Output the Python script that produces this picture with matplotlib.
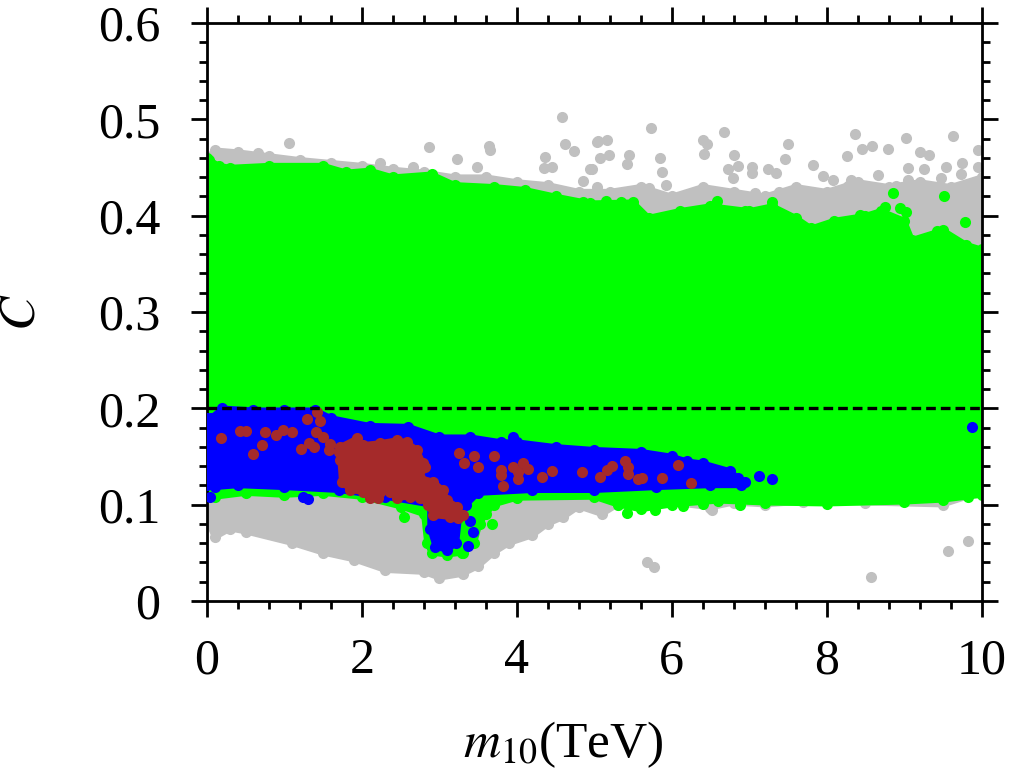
import numpy as np
import matplotlib
matplotlib.use("Agg")
import matplotlib.pyplot as plt
from matplotlib.ticker import MultipleLocator, FormatStrFormatter

plt.rcParams['font.family'] = ['Liberation Serif', 'DejaVu Serif']
plt.rcParams['mathtext.fontset'] = 'stix'

# dense regions (outline), x in TeV
gray_top_x = [0, 0.1, 0.4, 0.8, 1.2, 1.6, 2.0, 2.4, 2.8, 3.2, 3.6, 4.0, 4.4, 4.8, 5.2,
              5.6, 6.0, 6.4, 6.8, 7.2, 7.6, 8.0, 8.4, 8.8, 9.2, 9.6, 10]
gray_top_y = [0.46, 0.468, 0.466, 0.462, 0.458, 0.455, 0.452, 0.448, 0.445, 0.44, 0.44,
              0.435, 0.432, 0.425, 0.425, 0.43, 0.42, 0.43, 0.425, 0.42, 0.43, 0.425,
              0.435, 0.43, 0.435, 0.43, 0.44]
gray_bot_x = [0, 0.1, 0.3, 0.5, 1.1, 1.5, 1.9, 2.3, 2.8, 3.0, 3.3, 3.5, 3.7, 3.9, 4.2,
              4.4, 4.6, 4.8, 5.1, 5.3, 6.0, 6.5, 6.8, 7.2, 7.7, 8.5, 9.5, 10]
gray_bot_y = [0.085, 0.066, 0.075, 0.072, 0.06, 0.05, 0.043, 0.032, 0.03, 0.024, 0.028,
              0.036, 0.05, 0.06, 0.068, 0.08, 0.087, 0.098, 0.09, 0.1, 0.102, 0.097,
              0.102, 0.1, 0.103, 0.102, 0.1, 0.113]

green_top_x = [0, 0.15, 0.3, 0.8, 1.5, 1.8, 2.1, 2.4, 2.9, 3.2, 3.7, 4.1, 4.5, 4.95,
               5.5, 5.7, 6.1, 6.5, 7.0, 7.3, 7.6, 7.8, 8.1, 8.5, 8.7, 9.0, 9.1, 9.5,
               9.8, 10]
green_top_y = [0.46, 0.452, 0.45, 0.452, 0.452, 0.445, 0.447, 0.44, 0.443, 0.432, 0.43,
               0.427, 0.42, 0.413, 0.414, 0.398, 0.405, 0.41, 0.405, 0.41, 0.398, 0.387,
               0.395, 0.40, 0.405, 0.395, 0.375, 0.385, 0.37, 0.365]
green_bot_x = [0, 0.1, 0.5, 1.0, 1.5, 2.0, 2.5, 2.8, 2.84, 2.9, 3.1, 3.3, 3.45, 3.52,
               3.6, 3.7, 4.0, 5.0, 5.3, 5.6, 6.0, 6.6, 7.2, 8.0, 9.0, 9.5, 10]
green_bot_y = [0.115, 0.108, 0.112, 0.11, 0.112, 0.108, 0.098, 0.09, 0.06, 0.05, 0.048,
               0.05, 0.06, 0.08, 0.09, 0.1, 0.107, 0.108, 0.1, 0.095, 0.1, 0.104, 0.102,
               0.101, 0.103, 0.105, 0.11]

blue_x = [0, 0.05, 0.2, 0.6, 1.0, 1.4, 1.6, 2.1, 2.6, 3.0, 3.4, 3.8, 4.0, 4.5, 5.0, 5.6,
          6.0, 6.2, 6.4, 6.75, 6.85, 6.9, 6.5, 5.8, 5.0, 4.2, 3.5, 3.35, 3.26, 3.22, 3.1,
          2.95, 2.88, 2.88, 2.3, 1.7, 1.0, 0.4, 0.1, 0]
blue_y = [0.19, 0.19, 0.2, 0.198, 0.198, 0.198, 0.19, 0.182, 0.181, 0.17, 0.17, 0.165,
          0.165, 0.16, 0.157, 0.155, 0.15, 0.145, 0.143, 0.135, 0.128, 0.12, 0.12, 0.118,
          0.115, 0.115, 0.112, 0.1, 0.09, 0.06, 0.053, 0.056, 0.075, 0.1, 0.108, 0.115,
          0.118, 0.12, 0.118, 0.12]

brown_x = [1.72, 1.94, 2.01, 2.23, 2.45, 2.58, 2.71, 2.79, 2.82, 2.75, 2.92, 3.05, 3.10,
           3.23, 3.30, 3.24, 3.14, 2.92, 2.85, 2.75, 2.62, 2.45, 2.36, 2.23, 2.21, 2.10,
           2.01, 1.85, 1.74, 1.72, 1.70]
brown_y = [0.160, 0.169, 0.162, 0.164, 0.167, 0.165, 0.157, 0.143, 0.139, 0.128, 0.124,
           0.115, 0.105, 0.098, 0.089, 0.086, 0.087, 0.089, 0.10, 0.107, 0.108, 0.107,
           0.113, 0.113, 0.107, 0.107, 0.113, 0.115, 0.124, 0.146, 0.155]

# isolated points
gray_pts_x = [5.73, 5.05, 5.17, 5.08, 5.19, 4.97, 4.86, 5.03, 5.45, 5.42, 5.70, 5.85, 5.88,
              5.92, 6.40, 6.45, 6.41, 6.67, 6.80, 6.72, 6.85, 6.79, 7.03, 7.03, 7.24,
              7.35, 7.50, 7.46, 7.07, 7.39, 7.82, 7.95, 8.08, 8.26, 8.36, 8.45, 8.58,
              8.79, 8.66, 8.27, 8.31, 8.08, 9.03, 9.05, 9.05, 9.20, 9.32, 9.26, 9.54,
              9.48, 9.63, 9.75, 9.73, 9.87, 9.95, 9.95, 8.90, 9.11, 9.35, 9.87, 1.06,
              0.66, 2.86, 3.23, 3.64, 3.65, 4.58, 4.62, 4.74, 4.37, 4.35, 4.45, 2.66,
              3.48, 2.23, 4.94, 5.03,
              9.82, 9.56, 8.57, 5.68, 5.77, 6.52]
gray_pts_y = [0.491, 0.478, 0.479, 0.460, 0.463, 0.449, 0.436, 0.430, 0.463, 0.454, 0.429,
              0.460, 0.445, 0.432, 0.479, 0.474, 0.464, 0.487, 0.463, 0.449, 0.452, 0.439,
              0.451, 0.444, 0.448, 0.444, 0.474, 0.459, 0.424, 0.425, 0.453, 0.441, 0.437,
              0.462, 0.485, 0.469, 0.472, 0.469, 0.442, 0.431, 0.437, 0.420, 0.481, 0.450,
              0.437, 0.466, 0.463, 0.449, 0.451, 0.439, 0.483, 0.455, 0.443, 0.434, 0.468,
              0.451, 0.431, 0.427, 0.425, 0.422, 0.475, 0.465, 0.471, 0.459, 0.472, 0.468,
              0.502, 0.474, 0.467, 0.461, 0.450, 0.451, 0.451, 0.451, 0.455, 0.449, 0.477,
              0.062, 0.052, 0.025, 0.040, 0.035, 0.094]

green_pts_x = [6.58, 7.29, 6.94, 8.86, 9.52, 8.75, 8.94, 9.03, 8.43, 9.78, 8.99, 9.43,
               7.20, 7.37, 5.34, 4.86, 5.15, 0.02,
               2.55, 3.68, 3.29, 5.42, 5.78, 6.15, 6.40, 6.88, 9.83]
green_pts_y = [0.415, 0.414, 0.405, 0.424, 0.420, 0.409, 0.408, 0.404, 0.401, 0.393, 0.380,
               0.384, 0.394, 0.383, 0.414, 0.414, 0.415, 0.458,
               0.087, 0.080, 0.050, 0.091, 0.094, 0.099, 0.101, 0.100, 0.108]

blue_pts_x = [0.04, 1.24, 1.30, 7.30, 6.75, 6.94, 7.12, 9.88, 3.37, 3.40, 3.43, 3.37, 3.95]
blue_pts_y = [0.108, 0.108, 0.106, 0.127, 0.134, 0.124, 0.130, 0.181, 0.112, 0.083,
              0.072, 0.057, 0.170]

brown_pts_x = [0.18, 0.43, 0.50, 0.75, 0.89, 0.98, 1.10, 0.71, 0.59, 1.29, 1.42, 1.46,
               1.41, 1.50, 1.32, 1.38, 1.21, 1.59, 1.57, 1.75, 1.94, 3.25, 3.45, 3.32,
               3.50, 3.70, 3.79, 3.80, 3.82, 3.95, 4.01, 4.01, 4.08, 4.14, 4.32, 4.46,
               4.84, 5.08, 5.17, 5.23, 5.39, 5.43, 5.43, 5.57, 5.61, 5.88, 6.08, 6.25]
brown_pts_y = [0.169, 0.176, 0.176, 0.175, 0.172, 0.177, 0.175, 0.162, 0.153, 0.189, 0.196,
               0.187, 0.175, 0.170, 0.164, 0.160, 0.158, 0.163, 0.157, 0.157, 0.165, 0.154,
               0.151, 0.143, 0.139, 0.150, 0.136, 0.131, 0.119, 0.139, 0.134, 0.127, 0.143,
               0.137, 0.129, 0.135, 0.134, 0.129, 0.136, 0.140, 0.145, 0.139, 0.132, 0.127,
               0.128, 0.128, 0.141, 0.123]

c_line = 0.2

GRAY = '#c0c0c0'
GREEN = '#00ff00'
BLUE = '#0000ff'
BROWN = '#a52a2a'
PT = 64


def region(ax, xs, ys, pts_x, pts_y, color, z):
    # solid cloud plus dots on its outline and the loose points
    ax.fill(xs, ys, color=color, lw=4, zorder=z)
    ax.scatter(xs, ys, s=PT, color=color, lw=0, zorder=z)
    ax.scatter(pts_x, pts_y, s=PT, color=color, lw=0, zorder=z)


fig = plt.figure(figsize=(10.12, 7.69), dpi=100)
ax = fig.add_axes([0.2045, 0.2185, 0.7655, 0.7515])

region(ax, gray_top_x + gray_bot_x[::-1], gray_top_y + gray_bot_y[::-1],
       gray_pts_x, gray_pts_y, GRAY, 1)
region(ax, green_top_x + green_bot_x[::-1], green_top_y + green_bot_y[::-1],
       green_pts_x, green_pts_y, GREEN, 2)
region(ax, blue_x, blue_y, blue_pts_x, blue_pts_y, BLUE, 3)
region(ax, brown_x, brown_y, brown_pts_x, brown_pts_y, BROWN, 4)

ax.axhline(c_line, color='black', lw=2.4, dashes=(2.9, 1.5), zorder=5)

ax.set_xlim(0, 10)
ax.set_ylim(0, 0.6)
ax.xaxis.set_major_locator(MultipleLocator(2))
ax.xaxis.set_minor_locator(MultipleLocator(0.4))
ax.yaxis.set_major_locator(MultipleLocator(0.1))
ax.yaxis.set_minor_locator(MultipleLocator(0.02))
ax.yaxis.set_major_formatter(FormatStrFormatter('%g'))
ax.tick_params(which='both', direction='out', top=True, right=True, width=2,
               labelsize=36)
ax.tick_params(which='major', length=11.5)
ax.tick_params(which='minor', length=5.8)
ax.tick_params(axis='x', which='major', pad=15)
ax.tick_params(axis='y', which='major', pad=22)
for s in ax.spines.values():
    s.set_linewidth(2)

fig.text(563 / 1012, 1 - 757 / 769, r'$m_{10}$(TeV)', fontsize=37,
         ha='center', va='baseline')
fig.text(22 / 1012, 1 - 312 / 769, r'$C$', fontsize=37, rotation=90,
         ha='center', va='center')

fig.savefig('out.png', dpi=100)
